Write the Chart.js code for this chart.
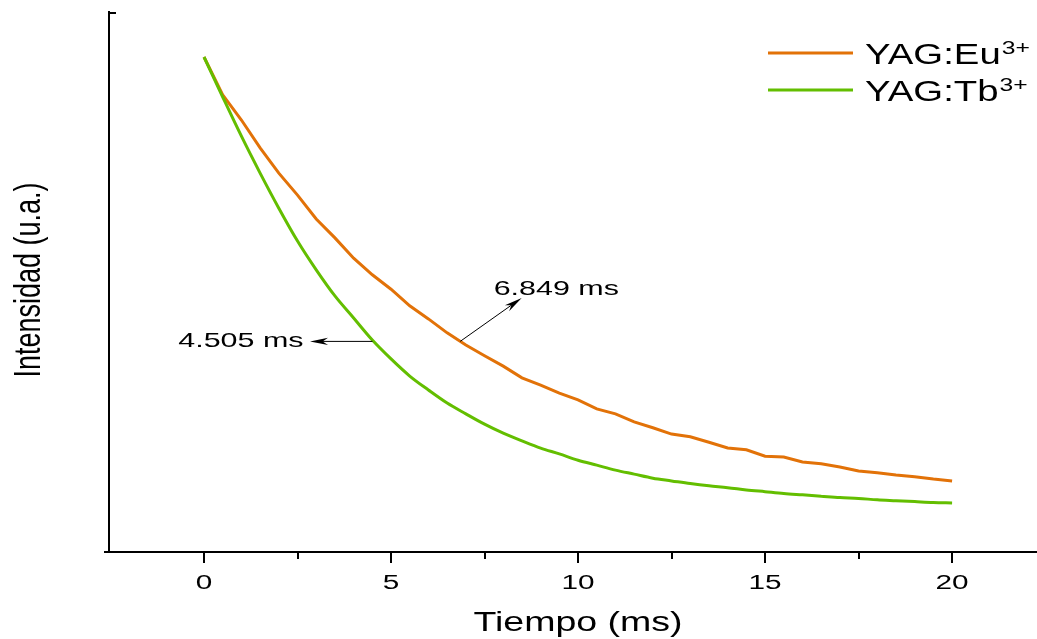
<!DOCTYPE html>
<html>
<head>
<meta charset="utf-8">
<script src="https://cdn.jsdelivr.net/npm/chart.js@4.4.1/dist/chart.umd.min.js"></script>
<style>
  html, body { margin: 0; padding: 0; background: #fff; }
  #wrap { width: 1037px; height: 639px; position: relative; }
</style>
</head>
<body>
<div id="wrap"><canvas id="decayChart"></canvas></div>
<script>
// Luminescence decay, time in ms, intensity normalised to t = 0
const tiempo = [0, 0.5, 1, 1.5, 2, 2.5, 3, 3.5, 4, 4.5, 5, 5.5, 6, 6.5, 7, 7.5, 8, 8.5, 9, 9.5,
  10, 10.5, 11, 11.5, 12, 12.5, 13, 13.5, 14, 14.5, 15, 15.5, 16, 16.5, 17, 17.5, 18, 18.5, 19, 19.5, 20];
const euIntensity = [1.000, 0.916, 0.860, 0.798, 0.742, 0.693, 0.640, 0.598, 0.553, 0.516,
  0.484, 0.447, 0.418, 0.387, 0.360, 0.336, 0.313, 0.287, 0.271, 0.253,
  0.238, 0.218, 0.207, 0.189, 0.176, 0.162, 0.156, 0.144, 0.131, 0.127,
  0.113, 0.111, 0.100, 0.096, 0.089, 0.080, 0.076, 0.071, 0.067, 0.062, 0.058];
const tbIntensity = [1.000, 0.911, 0.824, 0.742, 0.664, 0.591, 0.527, 0.469, 0.420, 0.371,
  0.329, 0.291, 0.260, 0.231, 0.207, 0.184, 0.164, 0.147, 0.131, 0.118,
  0.104, 0.093, 0.082, 0.073, 0.064, 0.058, 0.052, 0.047, 0.043, 0.038,
  0.034, 0.030, 0.027, 0.024, 0.021, 0.019, 0.016, 0.014, 0.012, 0.010, 0.009];

// lifetimes marked on the curves (1/e point)
const tauValues = [6.849, 4.505];
const tauIntensity = [0.368, 0.368];
const tauLabels = ['6.849 ms', '4.505 ms'];

const majorTicks = [0, 5, 10, 15, 20];
const minorTicks = [2.5, 7.5, 12.5, 17.5];
const tickLabels = ['0', '5', '10', '15', '20'];

const EU_COLOR = '#E27208';
const TB_COLOR = '#63BE00';
const FONT = '"Liberation Sans", Arial, sans-serif';

// text drawn with a horizontal stretch
function wideText(c, text, x, y, size, sx, align) {
  c.save();
  c.translate(x, y);
  c.scale(sx, 1);
  c.font = size + 'px ' + FONT;
  c.textAlign = align || 'left';
  c.textBaseline = 'alphabetic';
  c.fillStyle = '#000';
  c.fillText(text, 0, 0);
  const w = c.measureText(text).width * sx;
  c.restore();
  return w;
}

function arrow(c, x0, y0, x1, y1) {
  const ang = Math.atan2(y1 - y0, x1 - x0);
  const len = 18, half = 3.6;
  c.save();
  c.strokeStyle = '#000';
  c.fillStyle = '#000';
  c.lineWidth = 1;
  c.beginPath();
  c.moveTo(x0, y0);
  c.lineTo(x1 - Math.cos(ang) * len * 0.6, y1 - Math.sin(ang) * len * 0.6);
  c.stroke();
  c.translate(x1, y1);
  c.rotate(ang);
  c.beginPath();
  c.moveTo(0, 0);
  c.lineTo(-len, -half);
  c.lineTo(-len * 0.7, 0);
  c.lineTo(-len, half);
  c.closePath();
  c.fill();
  c.restore();
}

const decorations = {
  id: 'decorations',
  afterDraw(chart) {
    const c = chart.ctx;
    const xs = chart.scales.x, ys = chart.scales.y;
    const area = chart.chartArea;

    c.save();
    c.strokeStyle = '#000';
    c.lineWidth = 2;
    c.beginPath();
    // x ticks below the axis
    majorTicks.forEach(v => {
      const px = Math.round(xs.getPixelForValue(v));
      c.moveTo(px, area.bottom); c.lineTo(px, area.bottom + 11);
    });
    minorTicks.forEach(v => {
      const px = Math.round(xs.getPixelForValue(v));
      c.moveTo(px, area.bottom); c.lineTo(px, area.bottom + 7);
    });
    // little inward tick at the top of the y axis, axis stub on the left
    c.moveTo(area.left, area.top + 1); c.lineTo(area.left + 7, area.top + 1);
    c.moveTo(area.left - 5, area.bottom); c.lineTo(area.left, area.bottom);
    c.stroke();
    c.restore();

    // tick labels
    majorTicks.forEach((v, i) => {
      wideText(c, tickLabels[i], xs.getPixelForValue(v), area.bottom + 37, 20.5, 1.45, 'center');
    });

    // axis titles
    wideText(c, 'Tiempo (ms)', 578, 631, 27, 1.39, 'center');
    c.save();
    c.translate(40, 280);
    c.rotate(-Math.PI / 2);
    c.scale(1, 1.35);
    c.font = '27px ' + FONT;
    c.textAlign = 'center';
    c.textBaseline = 'alphabetic';
    c.fillStyle = '#000';
    c.fillText('Intensidad (u.a.)', 0, 0);
    c.restore();

    // legend
    const rows = [
      { color: EU_COLOR, name: 'YAG:Eu', y: 53 },
      { color: TB_COLOR, name: 'YAG:Tb', y: 90 }
    ];
    rows.forEach(r => {
      c.save();
      c.strokeStyle = r.color;
      c.lineWidth = 3;
      c.beginPath();
      c.moveTo(768, r.y); c.lineTo(853, r.y);
      c.stroke();
      c.restore();
      const w = wideText(c, r.name, 865, r.y + 10.5, 29.5, 1.3, 'left');
      wideText(c, '3+', 865 + w + 1, r.y + 1, 19, 1.3, 'left');
    });

    // lifetime arrows
    const euX = xs.getPixelForValue(tauValues[0]), euY = ys.getPixelForValue(tauIntensity[0]);
    const tbX = xs.getPixelForValue(tauValues[1]), tbY = ys.getPixelForValue(tauIntensity[1]);
    arrow(c, euX, euY, euX + 61.5, euY - 43.5);
    wideText(c, tauLabels[0], euX + 33.5, euY - 46.5, 21, 1.45, 'left');
    arrow(c, tbX, tbY, tbX - 62.5, tbY);
    wideText(c, tauLabels[1], tbX - 69, tbY + 5.5, 21, 1.45, 'right');
  }
};

const ctx = document.getElementById('decayChart');
new Chart(ctx, {
  type: 'line',
  data: {
    datasets: [
      {
        label: 'YAG:Eu3+',
        data: tiempo.map((t, i) => ({ x: t, y: euIntensity[i] })),
        borderColor: EU_COLOR,
        borderWidth: 3,
        pointRadius: 0,
        tension: 0,
        order: 1
      },
      {
        label: 'YAG:Tb3+',
        data: tiempo.map((t, i) => ({ x: t, y: tbIntensity[i] })),
        borderColor: TB_COLOR,
        borderWidth: 3,
        pointRadius: 0,
        cubicInterpolationMode: 'monotone',
        order: 0
      }
    ]
  },
  options: {
    responsive: true,
    maintainAspectRatio: false,
    animation: false,
    layout: { padding: { top: 12, right: 0, bottom: 0, left: 0 } },
    plugins: {
      legend: { display: false },
      tooltip: { enabled: false }
    },
    scales: {
      x: {
        type: 'linear',
        min: -2.54,
        max: 22.27,
        grid: { display: false },
        border: { display: true, color: '#000', width: 2 },
        ticks: { display: false },
        afterFit: s => { s.height = 87; }
      },
      y: {
        min: -0.1,
        max: 1.1,
        grid: { display: false },
        border: { display: true, color: '#000', width: 2 },
        ticks: { display: false },
        afterFit: s => { s.width = 109; }
      }
    }
  },
  plugins: [decorations]
});
</script>
</body>
</html>
